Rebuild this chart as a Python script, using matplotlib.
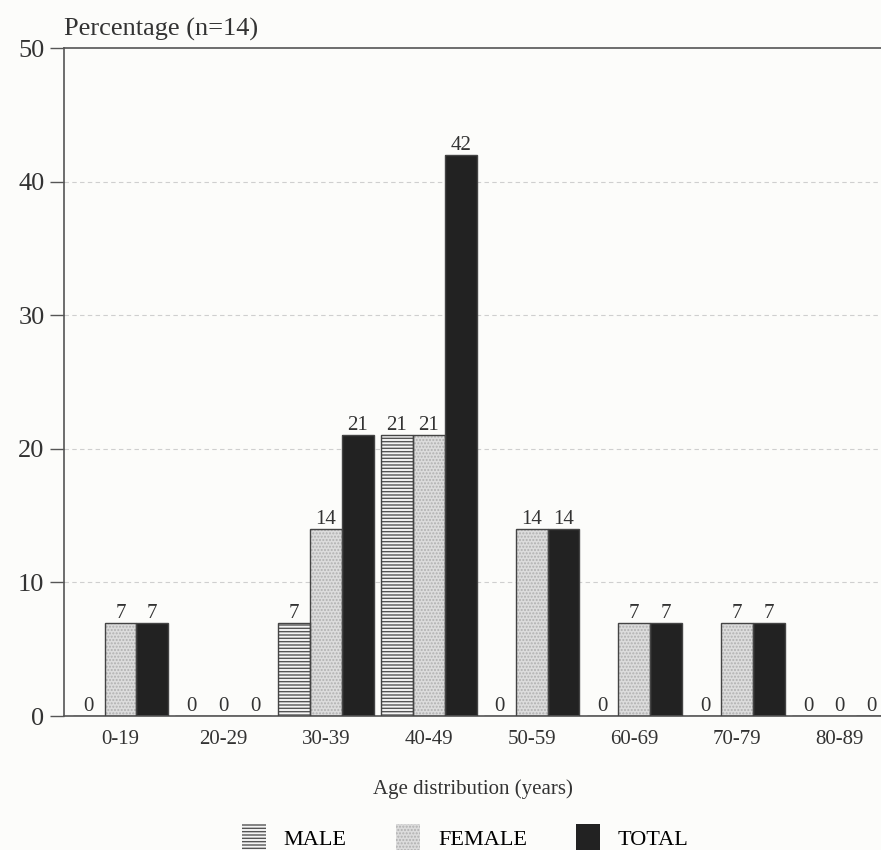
import numpy as np
import matplotlib.pyplot as plt

plt.rcParams['font.family'] = ['Liberation Serif', 'DejaVu Serif']
plt.rcParams['hatch.linewidth'] = 1.0

ages = ['0-19', '20-29', '30-39', '40-49', '50-59', '60-69', '70-79', '80-89']
male = [0, 0, 7, 21, 0, 0, 0, 0]
female = [7, 0, 14, 21, 14, 7, 7, 0]
total = [7, 0, 21, 42, 14, 7, 7, 0]

x = np.arange(len(ages))
width = 0.31

fig = plt.figure(figsize=(8.81, 8.5), dpi=100, facecolor='#fcfcfa')
ax = fig.add_axes([0.0726, 0.1576, 0.9274, 0.7859])
ax.set_facecolor('#fcfcfa')

series = [
    (male, -width, dict(color='#f4f4f4', hatch='-----', edgecolor='#555555'), 'MALE'),
    (female, 0, dict(color='#dcdcdc', hatch='.....', edgecolor='#b0b0b0'), 'FEMALE'),
    (total, width, dict(color='#222222', edgecolor='#222222'), 'TOTAL'),
]

handles = []
for vals, off, style, name in series:
    b = ax.bar(x + off, vals, width=width, linewidth=0, label=name, zorder=2, **style)
    ax.bar(x + off, vals, width=width, fill=False, edgecolor='#444444',
           linewidth=1.0, zorder=3)
    handles.append(b)
    for xi, v in zip(x + off, vals):
        ax.annotate(str(v), (xi, v), xytext=(0, 0), textcoords='offset points',
                    ha='center', va='bottom', fontsize=15, color='#333333')

ax.set_xlim(-0.55, 7.4)
ax.set_ylim(0, 50)
ax.set_yticks([0, 10, 20, 30, 40, 50])
ax.tick_params(axis='y', labelsize=19, length=10, width=1, colors='#555555',
               labelcolor='#333333', pad=4)
ax.set_xticks(x)
ax.set_xticklabels(ages)
ax.tick_params(axis='x', length=0, labelsize=15, pad=10, labelcolor='#333333')

for y in [10, 20, 30, 40]:
    ax.axhline(y, color='#cfcfcf', linestyle=(0, (4, 3)), linewidth=0.8, zorder=1)

for s in ['left', 'top', 'bottom']:
    ax.spines[s].set_color('#555555')
    ax.spines[s].set_linewidth(1.2)
ax.spines['right'].set_visible(False)

ax.set_xlabel('Age distribution (years)', fontsize=15, color='#333333', labelpad=22)
fig.text(0.0726, 0.965, 'Percentage (n=14)', fontsize=19, color='#333333',
         ha='left', va='center')

fig.legend(handles=handles, labels=['MALE', 'FEMALE', 'TOTAL'], loc='lower center',
           bbox_to_anchor=(0.528, -0.026), ncol=3, frameon=False, fontsize=16,
           handlelength=1.1, handleheight=1.6, columnspacing=2.2, handletextpad=0.8)

fig.savefig('out.png', dpi=100, facecolor=fig.get_facecolor())
